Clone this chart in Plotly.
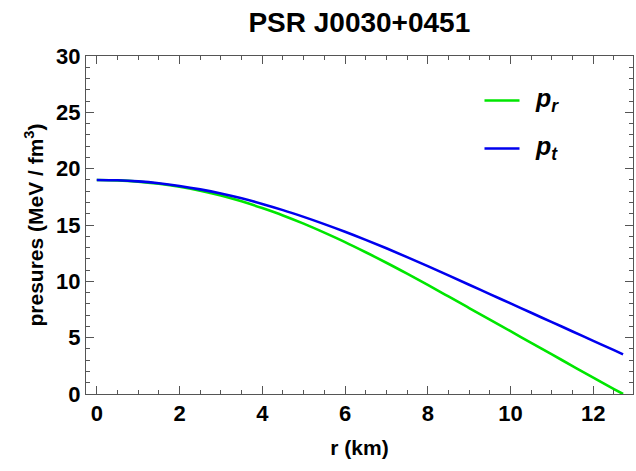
import plotly.graph_objects as go

r_km = [0, 0.5, 1, 1.5, 2, 2.5, 3, 3.5, 4, 4.5, 5, 5.5, 6, 6.5, 7, 7.5, 8, 8.5,
        9, 9.5, 10, 10.5, 11, 11.5, 12, 12.5, 12.72]
p_r = [19.0, 18.96, 18.85, 18.66, 18.40, 18.05, 17.62, 17.10, 16.50, 15.85, 15.12, 14.32,
       13.48, 12.58, 11.65, 10.68, 9.68, 8.66, 7.63, 6.60, 5.57, 4.54, 3.51, 2.48, 1.45, 0.44, 0.0]
p_t = [19.0, 18.97, 18.87, 18.70, 18.46, 18.16, 17.80, 17.37, 16.87, 16.32, 15.72, 15.08,
       14.40, 13.68, 12.93, 12.15, 11.35, 10.53, 9.70, 8.87, 8.04, 7.21, 6.38, 5.55, 4.72, 3.89, 3.52]

FONT = "Liberation Sans"
frame = "#555555"

fig = go.Figure()
fig.add_trace(go.Scatter(x=r_km, y=p_r, mode="lines", line=dict(color="#00e600", width=2.6),
                         line_shape="spline", showlegend=False))
fig.add_trace(go.Scatter(x=r_km, y=p_t, mode="lines", line=dict(color="#0000ee", width=2.6),
                         line_shape="spline", showlegend=False))

axis_common = dict(showline=True, linecolor=frame, linewidth=1, mirror="ticks",
                   ticks="inside", tickcolor=frame, ticklen=8, tickwidth=1,
                   showgrid=False, zeroline=False,
                   tickfont=dict(family=FONT, size=22, color="black", weight="bold"))

fig.update_xaxes(range=[-0.26, 12.96], tick0=0, dtick=2,
                 minor=dict(dtick=0.5, ticks="inside", ticklen=4, tickcolor=frame, showgrid=False),
                 title=dict(text="r (km)", font=dict(family=FONT, size=21, color="black", weight="bold"),
                            standoff=14),
                 **axis_common)
fig.update_yaxes(range=[0, 30], tick0=0, dtick=5,
                 minor=dict(dtick=1, ticks="inside", ticklen=4, tickcolor=frame, showgrid=False),
                 title=dict(text="presures (MeV / fm<sup>3</sup>)",
                            font=dict(family=FONT, size=21, color="black", weight="bold"), standoff=6),
                 **axis_common)

# legend drawn manually
legend_items = [("<i>p</i><sub><i>r</i></sub>", "#00e600", 0.8685),
                ("<i>p</i><sub><i>t</i></sub>", "#0000ee", 0.7265)]
for label, col, yy in legend_items:
    fig.add_shape(type="line", xref="paper", yref="paper", x0=0.7285, x1=0.7925, y0=yy, y1=yy,
                  line=dict(color=col, width=2.6))
    fig.add_annotation(xref="paper", yref="paper", x=0.818, y=yy, text=label, showarrow=False,
                       xanchor="left", yanchor="middle",
                       font=dict(family=FONT, size=25, color="black", weight="bold"))

fig.update_layout(
    width=636, height=471,
    margin=dict(l=86, r=3, t=56, b=77),
    paper_bgcolor="white", plot_bgcolor="white",
    title=dict(text="PSR J0030+0451", x=0.565, xanchor="center", y=0.953, yanchor="middle",
               font=dict(family=FONT, size=28, color="black", weight="bold")),
)

fig.write_html("out.html")
